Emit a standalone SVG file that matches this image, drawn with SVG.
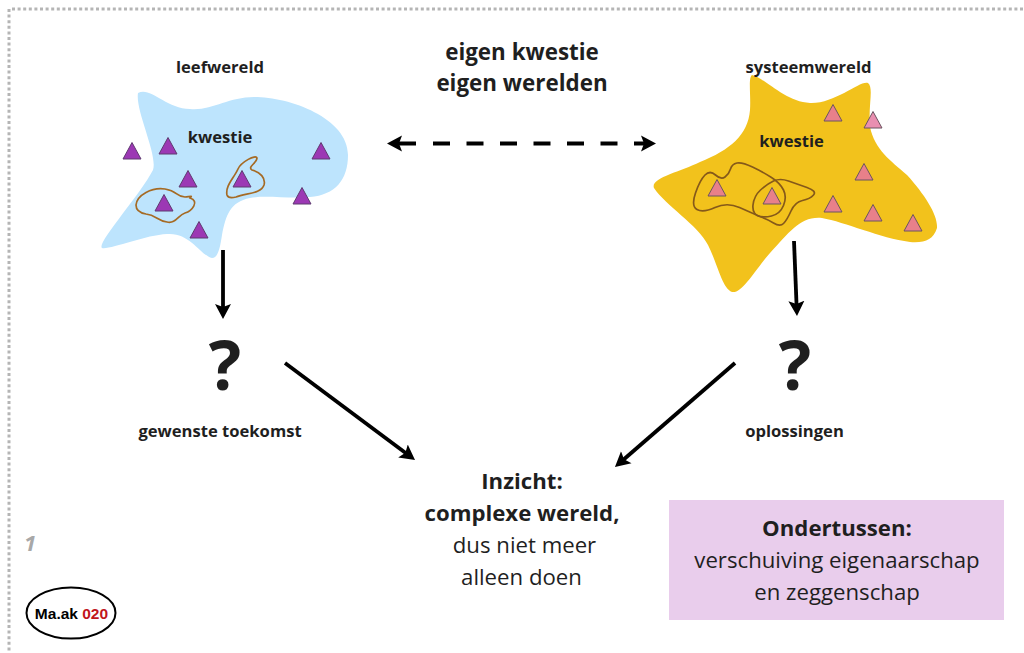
<svg xmlns="http://www.w3.org/2000/svg" width="1024" height="653" viewBox="0 0 1024 653">
<style>
text{font-family:"Open Sans","Noto Sans",sans-serif;fill:#1f1f1f;text-anchor:middle}
.b{font-weight:700}
.s{font-size:16.600px;font-weight:700}
.m{font-size:22.200px}
.p{fill:#9c38b4;stroke:#5f3a70;stroke-width:1}
.r{fill:#e8808a;stroke:#6b5560;stroke-width:1}
.c{fill:none;stroke:#a56a24;stroke-width:1.7}
.d{fill:none;stroke:#85591a;stroke-width:1.7}
.a{fill:none;stroke:#000;stroke-width:3.800}
</style>
<defs>
<marker id="h" markerUnits="userSpaceOnUse" markerWidth="18" markerHeight="18" refX="5" refY="9" orient="auto-start-reverse"><path d="M0 1L15 9L0 17L3 9z" fill="#000"/></marker>
<polygon id="t" points="0,-8.5 9,8 -9,8"/>
</defs>
<path d="M12 9H1024M9 9V653" fill="none" stroke="#b5b5b5" stroke-width="3" stroke-dasharray="3 2.6"/>
<g id="leefwereld">
<path d="M138 93C150 86 165 108 190 109C212 111 228 97 254 97C290 97 348 118 348 155C348 180 335 195 310 197C290 199 265 195 250 198C230 202 226 215 222 235C220 248 218 258 212 258C200 255 190 232 167 234C145 235 110 250 102 248C96 244 140 195 153 170C158 155 135 110 138 93Z" fill="#bde4fd"/>
<text class="s" x="220" y="73">leefwereld</text>
<text class="s" x="220" y="143">kwestie</text>
<use href="#t" class="p" x="132" y="151"/><use href="#t" class="p" x="168" y="146"/><use href="#t" class="p" x="188" y="179"/><use href="#t" class="p" x="242" y="179"/><use href="#t" class="p" x="321" y="151"/><use href="#t" class="p" x="302" y="196"/><use href="#t" class="p" x="164" y="203"/><use href="#t" class="p" x="199" y="230"/>
<path class="c" d="M136 205C137 195 152 187 165 189C178 191 176 197 185 197C194 196 191 196 190 198C200 201 192 211 185 213C178 215 176 224 167 222C158 221 156 215 146 214C140 213 136 211 136 205Z"/>
<path class="c" d="M227 195C225 186 234 178 238 169C241 162 256 154 257 158C257 163 247 167 252 170C260 172 266 178 264 185C261 194 246 193 236 197C232 198 228 198 227 195Z"/>
</g>
<g id="systeemwereld">
<path d="M752 75C765 78 785 102 810 103C835 104 860 80 868 83C874 88 868 105 870 127C875 150 890 160 907 175C925 195 938 215 937 228C933 240 925 243 910 242C880 238 845 222 822 218C800 216 790 232 770 253C755 270 742 294 732 292C722 288 718 265 708 245C698 225 665 205 654 188C650 178 680 172 700 162C730 150 748 135 750 110C751 95 748 78 752 75Z" fill="#f2c21c"/>
<text class="s" x="808.500" y="73">systeemwereld</text>
<text class="s" x="791.500" y="147">kwestie</text>
<use href="#t" class="r" x="833" y="113"/><use href="#t" x="873" y="120" style="fill:#e98fb0;stroke:#6b5560"/><use href="#t" class="r" x="864" y="172"/><use href="#t" class="r" x="833" y="204"/><use href="#t" class="r" x="873" y="213"/><use href="#t" class="r" x="913" y="223"/><use href="#t" class="r" x="717" y="188"/><use href="#t" class="r" x="772" y="196"/>
<path class="d" d="M695.500 193Q700 180 705 175Q710 170 715.500 175Q721 180 725 177Q729 174 730.500 169Q732 164 737 163Q742 162 752.500 167Q763 172 771.500 177.500Q780 183 783.500 190Q787 197 783.500 205.500Q780 214 771.500 216Q763 218 757.500 215.500Q752 213 739.500 207.500Q727 202 715 207.500Q703 213 697 209.500Q691 206 695.500 193Z"/>
<path class="d" d="M788.500 181Q797 184 807 187.500Q817 191 813.500 195Q810 199 802.500 200.500Q795 202 791 211Q787 220 783.500 223.500Q780 227 773.500 223Q767 219 759.500 216.500Q752 214 753 205Q754 196 760.500 190Q767 184 773.500 181Q780 178 788.500 181Z"/>
</g>
<g id="connectors">
<path class="a" d="M397 143.500H646" stroke-dasharray="19 17 17 16.500 17 16.500 17 16.500 17 16.500 17 16.500 17 16.500 17" marker-start="url(#h)" marker-end="url(#h)"/>
<path class="a" d="M223 250V309" marker-end="url(#h)"/>
<path class="a" d="M794 241L796.600 306" marker-end="url(#h)"/>
<path class="a" d="M285 363L407 454" marker-end="url(#h)"/>
<path class="a" d="M735 363L622.500 460.500" marker-end="url(#h)"/>
</g>
<g id="titel"><text class="b" font-size="22.400" x="522" y="60">eigen kwestie</text><text class="b" font-size="22.400" x="522" y="91">eigen werelden</text></g>
<g id="vraag-links"><text class="b" font-size="68" x="225" y="390">?</text><text class="s" x="220" y="437">gewenste toekomst</text></g>
<g id="vraag-rechts"><text class="b" font-size="68" x="795" y="390">?</text><text class="s" x="794.500" y="437">oplossingen</text></g>
<g id="inzicht"><text class="b m" x="522" y="489">Inzicht:</text><text class="b m" x="522" y="521">complexe wereld,</text><text class="m" x="524.500" y="553">dus niet meer</text><text class="m" x="521.500" y="585">alleen doen</text></g>
<g id="ondertussen"><rect x="669" y="500" width="335" height="120" fill="#e9cdec"/><text class="b m" x="837" y="536">Ondertussen:</text><text class="m" x="837" y="568">verschuiving eigenaarschap</text><text class="m" x="837" y="600">en zeggenschap</text></g>
<text x="30" y="551" font-size="22" font-weight="700" font-style="italic" style="fill:#a8a8a8">1</text>
<g id="logo"><ellipse cx="71" cy="613" rx="44.500" ry="25.500" fill="#fff" stroke="#000" stroke-width="2"/><text x="71.500" y="618.500" font-size="15.500" font-weight="700" style="font-family:'Liberation Sans',sans-serif;fill:#000">Ma.ak <tspan style="fill:#c1161c">020</tspan></text></g>
</svg>
